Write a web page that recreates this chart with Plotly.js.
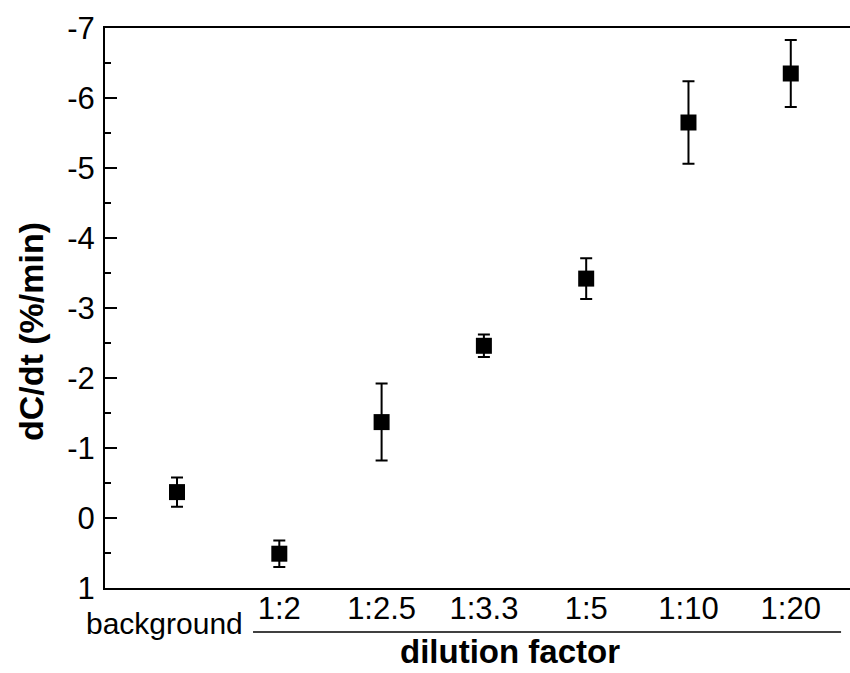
<!DOCTYPE html>
<html>
<head>
<meta charset="utf-8">
<script src="https://cdn.plot.ly/plotly-3.0.1.min.js"></script>
<style>html,body{margin:0;padding:0;background:#fff;}#chart{width:850px;height:673px;}</style>
</head>
<body>
<div id="chart"></div>
<script>
// Data
const categories = ["background", "1:2", "1:2.5", "1:3.3", "1:5", "1:10", "1:20"];
const rates = [-0.37, 0.51, -1.37, -2.46, -3.42, -5.65, -6.35];
const rateErrors = [0.21, 0.19, 0.55, 0.16, 0.29, 0.59, 0.48];
const yTickVals = [-7, -6, -5, -4, -3, -2, -1, 0, 1];
const yTickText = ["-7", "-6", "-5", "-4", "-3", "-2", "-1", "0", "1"];
const xLabelCats = categories.slice(1);

const FONT = "Liberation Sans, Arial, sans-serif";

const trace = {
  type: "scatter",
  mode: "markers",
  x: categories,
  y: rates,
  marker: {symbol: "square", size: 16, color: "#000"},
  error_y: {type: "data", array: rateErrors, visible: true, color: "#000", thickness: 2, width: 6},
  showlegend: false,
  hoverinfo: "x+y"
};

const layout = {
  width: 850, height: 673,
  margin: {l: 105, r: 0, t: 28, b: 85, pad: 0},
  paper_bgcolor: "#fff", plot_bgcolor: "#fff",
  font: {family: FONT, color: "#000", size: 31},
  showlegend: false,
  xaxis: {
    type: "category",
    range: [-0.704, 6.579],
    tickmode: "array",
    tickvals: xLabelCats,
    ticktext: xLabelCats,
    ticks: "",
    showgrid: false, zeroline: false,
    showline: true, mirror: true, linecolor: "#000", linewidth: 2,
    tickfont: {family: FONT, size: 31, color: "#000"},
    ticklabelstandoff: -8,
    fixedrange: true
  },
  yaxis: {
    range: [1, -7],
    tickmode: "array",
    tickvals: yTickVals,
    ticktext: yTickText,
    ticks: "inside", ticklen: 12, tickwidth: 2, tickcolor: "#000",
    minor: {dtick: 0.5, ticks: "inside", ticklen: 6, tickwidth: 2, tickcolor: "#000", showgrid: false},
    showgrid: false, zeroline: false,
    showline: true, mirror: false, linecolor: "#000", linewidth: 2,
    tickfont: {family: FONT, size: 31, color: "#000"},
    ticklabelstandoff: 2,
    fixedrange: true
  },
  shapes: [{
    type: "line", xref: "paper", yref: "paper",
    x0: 0.1987, x1: 0.988, y0: -0.0786, y1: -0.0786,
    line: {color: "#000", width: 1.5}
  }],
  annotations: [
    {text: "background", xref: "x", yref: "paper", x: 0, y: -0.064, xanchor: "right", yanchor: "middle", xshift: 68,
     showarrow: false, font: {family: FONT, size: 30, color: "#000"}},
    {text: "<b>dilution factor</b>", xref: "paper", yref: "paper", x: 0.5436, y: -0.1125, xanchor: "center", yanchor: "middle",
     showarrow: false, font: {family: FONT, size: 33, color: "#000"}},
    {text: "<b>dC/dt (%/min)</b>", xref: "paper", yref: "paper", x: -0.0993, y: 0.457, xanchor: "center", yanchor: "middle",
     textangle: -90, showarrow: false, font: {family: FONT, size: 34, color: "#000"}}
  ]
};

Plotly.newPlot("chart", [trace], layout, {displayModeBar: false, staticPlot: true});
</script>
</body>
</html>
